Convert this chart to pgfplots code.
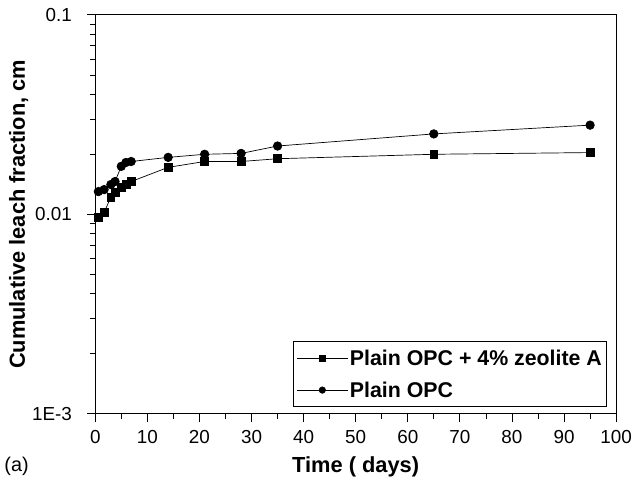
\documentclass[border=0pt]{standalone}
\usepackage{pgfplots}
\pgfplotsset{compat=1.18}
\usepackage{fontspec}
\setmainfont{Liberation Sans}

\begin{document}
\begin{tikzpicture}
\useasboundingbox (-96pt,-69pt) rectangle (541pt,417pt);
\begin{axis}[
    at={(0pt,0pt)}, anchor=south west,
    scale only axis,
    width=525pt,
    height=402pt,
    xmin=0, xmax=100,
    ymode=log,
    ymin=1e-3, ymax=0.1,
    xtick={0,10,...,100},
    minor x tick num=1,
    ytick={0.001,0.01,0.1},
    yticklabels={1E-3,0.01,0.1},
    tick align=outside,
    xtick pos=left,
    ytick pos=left,
    major tick length=8pt,
    minor tick length=5pt,
    every tick/.style={black, line width=0.8pt},
    axis line style={line width=0.9pt},
    /pgf/number format/assume math mode=true,
    ticklabel style={font=\fontsize{19}{22}\selectfont},
    xticklabel style={yshift=-5pt},
    yticklabel style={xshift=-12pt},
    label style={font=\bfseries\fontsize{22}{25}\selectfont},
    xlabel={Time ( days)},
    ylabel={Cumulative leach fraction, cm},
    xlabel style={yshift=-6pt},
    ylabel style={yshift=-3pt},
    legend style={at={(0.983,0.017)}, anchor=south east,
        font=\bfseries\fontsize{21.5}{24}\selectfont,
        draw=black, line width=0.9pt, inner xsep=3pt, inner ysep=6pt,
        row sep=11pt, cells={anchor=west}},
    legend image code/.code={
        \draw[mark repeat=2, mark phase=2, #1, line width=0.5pt, mark size=3.3pt]
        plot coordinates {(0cm,0cm) (0.9cm,0cm) (1.8cm,0cm)};},
    clip=false,
]
\addplot[black, line width=0.7pt, mark=square*, mark size=4pt] coordinates {
 (0.6,0.0097) (1.7,0.0102) (3.0,0.0122) (3.8,0.0129) (5.0,0.0137)
 (5.9,0.0141) (6.9,0.0146) (14,0.0172) (21,0.0184) (28,0.0184)
 (35,0.0190) (65,0.0200) (95,0.0204)};
\addlegendentry{Plain OPC + 4\% zeolite A}
\addplot[black, line width=0.7pt, mark=*, mark size=4.3pt] coordinates {
 (0.6,0.0130) (1.7,0.0133) (3.0,0.0141) (3.8,0.0146) (5.0,0.0174)
 (5.9,0.0182) (6.9,0.0184) (14,0.0193) (21,0.0200) (28,0.0202)
 (35,0.0220) (65,0.0253) (95,0.0280)};
\addlegendentry{Plain OPC}
\node[anchor=west, font=\fontsize{20}{22}\selectfont] at (rel axis cs:-0.181,-0.132) {(a)};
\end{axis}
\end{tikzpicture}
\end{document}
